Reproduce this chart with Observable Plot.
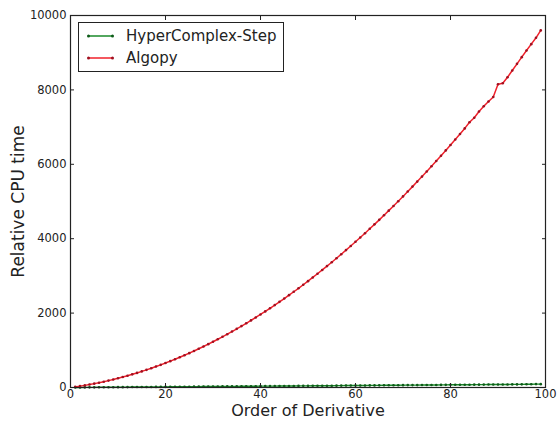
<!DOCTYPE html>
<html>
<head>
<meta charset="utf-8">
<script src="https://cdn.jsdelivr.net/npm/d3@7"></script>
<script src="https://cdn.jsdelivr.net/npm/@observablehq/plot@0.6"></script>
<style>
  html, body { margin: 0; padding: 0; background: #fff; }
  #wrap { position: relative; width: 558px; height: 423px; font-family: "DejaVu Sans", sans-serif; }
  #legend { position: absolute; left: 78px; top: 22px; width: 204px; height: 48px; border: 1px solid #222; background: #fff; box-sizing: content-box; }
  .row { position: absolute; left: 0; height: 20px; display: flex; align-items: center; font-size: 15px; color: #222; }
  .row svg { margin-left: 8px; margin-right: 12px; }
</style>
</head>
<body>
<div id="wrap"></div>
<script>
const orders = [1,2,3,4,5,6,7,8,9,10,11,12,13,14,15,16,17,18,19,20,21,22,23,24,25,26,27,28,29,30,31,32,33,34,35,36,37,38,39,40,41,42,43,44,45,46,47,48,49,50,51,52,53,54,55,56,57,58,59,60,61,62,63,64,65,66,67,68,69,70,71,72,73,74,75,76,77,78,79,80,81,82,83,84,85,86,87,88,89,90,91,92,93,94,95,96,97,98,99];

const hyperComplex = [1,2,3,4,4,5,6,7,8,9,
  10,11,12,12,13,14,15,16,17,18,
  19,20,21,21,22,23,24,25,26,27,
  28,29,29,30,31,32,33,34,35,36,
  37,38,38,39,40,41,42,43,44,45,
  46,46,47,48,49,50,51,52,53,54,
  55,55,56,57,58,59,60,61,62,63,
  64,64,65,66,67,68,69,70,71,72,
  73,73,74,75,76,77,78,79,80,81,
  82,82,83,84,85,86,89,92,90];

const algopy = [17,37,57,80,104,129,156,185,216,248,
  282,317,354,392,433,474,518,563,609,658,
  708,759,812,867,923,981,1041,1102,1165,1230,
  1296,1363,1433,1504,1576,1650,1726,1804,1883,1963,
  2046,2130,2215,2302,2391,2482,2574,2667,2762,2859,
  2958,3058,3160,3263,3368,3475,3583,3693,3804,3917,
  4032,4148,4266,4386,4507,4630,4754,4880,5008,5137,
  5268,5400,5535,5670,5808,5947,6087,6230,6373,6519,
  6666,6815,6965,7130,7250,7420,7560,7690,7810,8150,
  8180,8340,8520,8700,8880,9060,9230,9400,9600];

const seriesNames = ["HyperComplex-Step", "Algopy"];
const seriesColors = ["#1a8a2a", "#f0202a"];
const dotColors = ["#0d5a18", "#a01020"];
const xTicks = [0,20,40,60,80,100];
const yTicks = [0,2000,4000,6000,8000,10000];

const green = orders.map((o, i) => ({x: o, y: hyperComplex[i]}));
const red = orders.map((o, i) => ({x: o, y: algopy[i]}));

const txt = "#222";
const fmt = d => String(d);
const plot = Plot.plot({
  width: 558,
  height: 423,
  marginLeft: 70,
  marginRight: 13,
  marginTop: 15,
  marginBottom: 36,
  style: {fontFamily: "DejaVu Sans, sans-serif", fontSize: "11.5px", color: txt, background: "#fff"},
  x: {domain: [0, 100]},
  y: {domain: [0, 10000]},
  marks: [
    Plot.line(green, {x: "x", y: "y", stroke: seriesColors[0], strokeWidth: 1.4}),
    Plot.dot(green, {x: "x", y: "y", r: 1.3, fill: dotColors[0], stroke: "none"}),
    Plot.line(red, {x: "x", y: "y", stroke: seriesColors[1], strokeWidth: 1.5}),
    Plot.dot(red, {x: "x", y: "y", r: 1.3, fill: dotColors[1], stroke: "none"}),
    Plot.axisX({ticks: xTicks, tickFormat: fmt, tickSize: -4, tickPadding: 6, label: null, fontSize: 11.5, fill: txt}),
    Plot.axisX({anchor: "top", ticks: xTicks, tickSize: -4, text: null, label: null}),
    Plot.axisY({ticks: yTicks, tickFormat: fmt, tickSize: -4, tickPadding: 8, label: null, fontSize: 11.5, fill: txt}),
    Plot.axisY({anchor: "right", ticks: yTicks, tickSize: -4, text: null, label: null}),
    Plot.frame({stroke: "#222", strokeWidth: 1.2}),
    Plot.text(["Order of Derivative"], {frameAnchor: "bottom", dy: 28, fontSize: 16, fill: txt, textAnchor: "middle"}),
    Plot.text(["Relative CPU time"], {frameAnchor: "left", dx: -52, rotate: -90, fontSize: 17, fill: txt, textAnchor: "middle"})
  ]
});

const wrap = document.getElementById("wrap");
wrap.appendChild(plot);

const legend = document.createElement("div");
legend.id = "legend";
seriesNames.forEach((name, i) => {
  const row = document.createElement("div");
  row.className = "row";
  row.style.top = (3 + i * 22) + "px";
  row.innerHTML = `<svg width="27" height="8"><line x1="1" y1="4" x2="26" y2="4" stroke="${seriesColors[i]}" stroke-width="1.5"/><circle cx="1.5" cy="4" r="1.5" fill="${dotColors[i]}"/><circle cx="25.5" cy="4" r="1.5" fill="${dotColors[i]}"/></svg><span>${name}</span>`;
  legend.appendChild(row);
});
wrap.appendChild(legend);
</script>
</body>
</html>
